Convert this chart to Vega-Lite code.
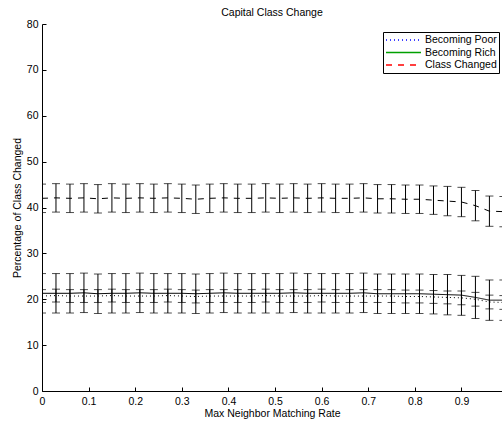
{
  "$schema": "https://vega.github.io/schema/vega-lite/v6.json",
  "width": 460,
  "height": 367,
  "autosize": {"type": "none"},
  "padding": {"left": 42, "top": 24, "right": 0, "bottom": 32},
  "title": {"text": "Capital Class Change", "font": "Liberation Sans", "fontSize": 10.5, "fontWeight": "normal", "color": "#000", "offset": 1},
  "config": {
    "view": {"stroke": null},
    "axis": {
      "grid": false, "domainColor": "#000", "tickColor": "#000", "tickSize": -4,
      "labelFont": "Liberation Sans", "labelFontSize": 10.5, "labelColor": "#000",
      "titleFont": "Liberation Sans", "titleFontSize": 10.5, "titleFontWeight": "normal", "titleColor": "#000",
      "labelFlush": false, "labelOverlap": false
    },
    "legend": {
      "orient": "none", "legendX": 341, "legendY": 8,
      "symbolType": "M-3.5,0H3.5", "symbolSize": 100, "symbolOffset": 12.5, "symbolStrokeWidth": 1.3, "symbolOpacity": 1,
      "fillColor": "#fff", "strokeColor": "#000", "padding": 2, "rowPadding": 0.5, "labelOffset": 15.5,
      "labelFont": "Liberation Sans", "labelFontSize": 10.5, "labelColor": "#000", "labelLimit": 200
    }
  },
  "data": {"values": [
    {"x":0,"s":"Class Changed","m":42.0,"lo":38.9,"hi":45.1},
    {"x":0.03,"s":"Class Changed","m":42.1,"lo":39.0,"hi":45.2},
    {"x":0.06,"s":"Class Changed","m":42.0,"lo":38.9,"hi":45.1},
    {"x":0.09,"s":"Class Changed","m":42.1,"lo":39.0,"hi":45.2},
    {"x":0.12,"s":"Class Changed","m":41.9,"lo":38.8,"hi":45.0},
    {"x":0.15,"s":"Class Changed","m":42.1,"lo":39.0,"hi":45.2},
    {"x":0.18,"s":"Class Changed","m":42.0,"lo":38.9,"hi":45.1},
    {"x":0.21,"s":"Class Changed","m":42.1,"lo":39.0,"hi":45.2},
    {"x":0.24,"s":"Class Changed","m":42.0,"lo":38.9,"hi":45.1},
    {"x":0.27,"s":"Class Changed","m":42.1,"lo":39.0,"hi":45.2},
    {"x":0.30,"s":"Class Changed","m":42.0,"lo":38.9,"hi":45.1},
    {"x":0.33,"s":"Class Changed","m":41.8,"lo":38.7,"hi":44.9},
    {"x":0.36,"s":"Class Changed","m":42.0,"lo":38.9,"hi":45.1},
    {"x":0.39,"s":"Class Changed","m":42.1,"lo":39.0,"hi":45.2},
    {"x":0.42,"s":"Class Changed","m":42.0,"lo":38.9,"hi":45.1},
    {"x":0.45,"s":"Class Changed","m":42.0,"lo":38.9,"hi":45.1},
    {"x":0.48,"s":"Class Changed","m":42.1,"lo":39.0,"hi":45.2},
    {"x":0.51,"s":"Class Changed","m":42.0,"lo":38.9,"hi":45.1},
    {"x":0.54,"s":"Class Changed","m":42.1,"lo":39.0,"hi":45.2},
    {"x":0.57,"s":"Class Changed","m":42.0,"lo":38.9,"hi":45.1},
    {"x":0.60,"s":"Class Changed","m":42.1,"lo":39.0,"hi":45.2},
    {"x":0.63,"s":"Class Changed","m":42.0,"lo":38.9,"hi":45.1},
    {"x":0.66,"s":"Class Changed","m":42.0,"lo":38.9,"hi":45.1},
    {"x":0.69,"s":"Class Changed","m":42.1,"lo":39.0,"hi":45.2},
    {"x":0.72,"s":"Class Changed","m":41.9,"lo":38.8,"hi":45.0},
    {"x":0.75,"s":"Class Changed","m":41.9,"lo":38.8,"hi":45.0},
    {"x":0.78,"s":"Class Changed","m":41.8,"lo":38.7,"hi":44.9},
    {"x":0.81,"s":"Class Changed","m":41.8,"lo":38.7,"hi":44.9},
    {"x":0.84,"s":"Class Changed","m":41.6,"lo":38.5,"hi":44.7},
    {"x":0.87,"s":"Class Changed","m":41.4,"lo":38.2,"hi":44.6},
    {"x":0.90,"s":"Class Changed","m":41.2,"lo":38.0,"hi":44.4},
    {"x":0.93,"s":"Class Changed","m":40.4,"lo":37.1,"hi":43.7},
    {"x":0.96,"s":"Class Changed","m":39.2,"lo":35.9,"hi":42.5},
    {"x":0.99,"s":"Class Changed","m":39.1,"lo":35.8,"hi":42.4},
    {"x":0,"s":"Becoming Rich","m":21.3,"lo":17.0,"hi":25.6},
    {"x":0.03,"s":"Becoming Rich","m":21.3,"lo":17.0,"hi":25.6},
    {"x":0.06,"s":"Becoming Rich","m":21.3,"lo":17.0,"hi":25.6},
    {"x":0.09,"s":"Becoming Rich","m":21.4,"lo":17.1,"hi":25.7},
    {"x":0.12,"s":"Becoming Rich","m":21.2,"lo":16.9,"hi":25.5},
    {"x":0.15,"s":"Becoming Rich","m":21.3,"lo":17.0,"hi":25.6},
    {"x":0.18,"s":"Becoming Rich","m":21.3,"lo":17.0,"hi":25.6},
    {"x":0.21,"s":"Becoming Rich","m":21.4,"lo":17.1,"hi":25.7},
    {"x":0.24,"s":"Becoming Rich","m":21.3,"lo":17.0,"hi":25.6},
    {"x":0.27,"s":"Becoming Rich","m":21.3,"lo":17.0,"hi":25.6},
    {"x":0.30,"s":"Becoming Rich","m":21.3,"lo":17.0,"hi":25.6},
    {"x":0.33,"s":"Becoming Rich","m":21.2,"lo":16.9,"hi":25.5},
    {"x":0.36,"s":"Becoming Rich","m":21.3,"lo":17.0,"hi":25.6},
    {"x":0.39,"s":"Becoming Rich","m":21.4,"lo":17.1,"hi":25.7},
    {"x":0.42,"s":"Becoming Rich","m":21.3,"lo":17.0,"hi":25.6},
    {"x":0.45,"s":"Becoming Rich","m":21.3,"lo":17.0,"hi":25.6},
    {"x":0.48,"s":"Becoming Rich","m":21.3,"lo":17.0,"hi":25.6},
    {"x":0.51,"s":"Becoming Rich","m":21.3,"lo":17.0,"hi":25.6},
    {"x":0.54,"s":"Becoming Rich","m":21.4,"lo":17.1,"hi":25.7},
    {"x":0.57,"s":"Becoming Rich","m":21.3,"lo":17.0,"hi":25.6},
    {"x":0.60,"s":"Becoming Rich","m":21.3,"lo":17.0,"hi":25.6},
    {"x":0.63,"s":"Becoming Rich","m":21.3,"lo":17.0,"hi":25.6},
    {"x":0.66,"s":"Becoming Rich","m":21.3,"lo":17.0,"hi":25.6},
    {"x":0.69,"s":"Becoming Rich","m":21.4,"lo":17.1,"hi":25.7},
    {"x":0.72,"s":"Becoming Rich","m":21.2,"lo":16.9,"hi":25.5},
    {"x":0.75,"s":"Becoming Rich","m":21.2,"lo":16.9,"hi":25.5},
    {"x":0.78,"s":"Becoming Rich","m":21.2,"lo":16.9,"hi":25.5},
    {"x":0.81,"s":"Becoming Rich","m":21.2,"lo":16.9,"hi":25.5},
    {"x":0.84,"s":"Becoming Rich","m":21.1,"lo":16.8,"hi":25.4},
    {"x":0.87,"s":"Becoming Rich","m":21.0,"lo":16.6,"hi":25.4},
    {"x":0.90,"s":"Becoming Rich","m":20.9,"lo":16.5,"hi":25.2},
    {"x":0.93,"s":"Becoming Rich","m":20.4,"lo":15.8,"hi":25.0},
    {"x":0.96,"s":"Becoming Rich","m":19.8,"lo":15.4,"hi":24.2},
    {"x":0.99,"s":"Becoming Rich","m":19.8,"lo":15.4,"hi":24.2},
    {"x":0,"s":"Becoming Poor","m":20.7,"lo":19.3,"hi":22.1},
    {"x":0.03,"s":"Becoming Poor","m":20.8,"lo":19.4,"hi":22.2},
    {"x":0.06,"s":"Becoming Poor","m":20.7,"lo":19.3,"hi":22.1},
    {"x":0.09,"s":"Becoming Poor","m":20.7,"lo":19.3,"hi":22.1},
    {"x":0.12,"s":"Becoming Poor","m":20.7,"lo":19.3,"hi":22.1},
    {"x":0.15,"s":"Becoming Poor","m":20.8,"lo":19.4,"hi":22.2},
    {"x":0.18,"s":"Becoming Poor","m":20.7,"lo":19.3,"hi":22.1},
    {"x":0.21,"s":"Becoming Poor","m":20.7,"lo":19.3,"hi":22.1},
    {"x":0.24,"s":"Becoming Poor","m":20.7,"lo":19.3,"hi":22.1},
    {"x":0.27,"s":"Becoming Poor","m":20.8,"lo":19.4,"hi":22.2},
    {"x":0.30,"s":"Becoming Poor","m":20.7,"lo":19.3,"hi":22.1},
    {"x":0.33,"s":"Becoming Poor","m":20.6,"lo":19.2,"hi":22.0},
    {"x":0.36,"s":"Becoming Poor","m":20.7,"lo":19.3,"hi":22.1},
    {"x":0.39,"s":"Becoming Poor","m":20.7,"lo":19.3,"hi":22.1},
    {"x":0.42,"s":"Becoming Poor","m":20.7,"lo":19.3,"hi":22.1},
    {"x":0.45,"s":"Becoming Poor","m":20.7,"lo":19.3,"hi":22.1},
    {"x":0.48,"s":"Becoming Poor","m":20.8,"lo":19.4,"hi":22.2},
    {"x":0.51,"s":"Becoming Poor","m":20.7,"lo":19.3,"hi":22.1},
    {"x":0.54,"s":"Becoming Poor","m":20.7,"lo":19.3,"hi":22.1},
    {"x":0.57,"s":"Becoming Poor","m":20.7,"lo":19.3,"hi":22.1},
    {"x":0.60,"s":"Becoming Poor","m":20.8,"lo":19.4,"hi":22.2},
    {"x":0.63,"s":"Becoming Poor","m":20.7,"lo":19.3,"hi":22.1},
    {"x":0.66,"s":"Becoming Poor","m":20.7,"lo":19.3,"hi":22.1},
    {"x":0.69,"s":"Becoming Poor","m":20.7,"lo":19.3,"hi":22.1},
    {"x":0.72,"s":"Becoming Poor","m":20.7,"lo":19.3,"hi":22.1},
    {"x":0.75,"s":"Becoming Poor","m":20.7,"lo":19.3,"hi":22.1},
    {"x":0.78,"s":"Becoming Poor","m":20.6,"lo":19.2,"hi":22.0},
    {"x":0.81,"s":"Becoming Poor","m":20.6,"lo":19.2,"hi":22.0},
    {"x":0.84,"s":"Becoming Poor","m":20.5,"lo":19.1,"hi":21.9},
    {"x":0.87,"s":"Becoming Poor","m":20.4,"lo":19.0,"hi":21.8},
    {"x":0.90,"s":"Becoming Poor","m":20.3,"lo":18.8,"hi":21.8},
    {"x":0.93,"s":"Becoming Poor","m":20.0,"lo":18.5,"hi":21.5},
    {"x":0.96,"s":"Becoming Poor","m":19.4,"lo":17.9,"hi":20.9},
    {"x":0.99,"s":"Becoming Poor","m":19.3,"lo":17.8,"hi":20.8}
  ]},
  "encoding": {
    "x": {
      "field": "x", "type": "quantitative",
      "scale": {"domain": [0, 0.987], "nice": false, "zero": false},
      "axis": {"title": "Max Neighbor Matching Rate", "values": [0, 0.1, 0.2, 0.3, 0.4, 0.5, 0.6, 0.7, 0.8, 0.9], "format": "~g", "labelPadding": 9, "titlePadding": 2}
    }
  },
  "layer": [
    {
      "mark": {"type": "line", "opacity": 0, "clip": true},
      "encoding": {
        "y": {"field": "m", "type": "quantitative", "scale": {"domain": [0, 80], "nice": false}, "axis": {"title": "Percentage of Class Changed", "values": [0, 10, 20, 30, 40, 50, 60, 70, 80], "labelPadding": 8, "titlePadding": 4}},
        "color": {"field": "s", "type": "nominal", "scale": {"domain": ["Becoming Poor", "Becoming Rich", "Class Changed"], "range": ["#0000ff", "#00a000", "#ff0000"]}, "legend": {"title": null}},
        "strokeDash": {"field": "s", "type": "nominal", "scale": {"domain": ["Becoming Poor", "Becoming Rich", "Class Changed"], "range": [[1, 3], [1, 0], [6, 6]]}, "legend": {"title": null}}
      }
    },
    {
      "mark": {"type": "line", "color": "#000", "strokeWidth": 1, "clip": true},
      "encoding": {
        "y": {"field": "m", "type": "quantitative"},
        "strokeDash": {"field": "s", "type": "nominal", "legend": {"title": null}},
        "detail": {"field": "s"}
      }
    },
    {
      "mark": {"type": "rule", "color": "#000", "strokeWidth": 1, "clip": true},
      "encoding": {
        "y": {"field": "lo", "type": "quantitative"},
        "y2": {"field": "hi"}
      }
    },
    {
      "mark": {"type": "tick", "orient": "horizontal", "color": "#000", "size": 8, "thickness": 1, "clip": true},
      "encoding": {"y": {"field": "lo", "type": "quantitative"}}
    },
    {
      "mark": {"type": "tick", "orient": "horizontal", "color": "#000", "size": 8, "thickness": 1, "clip": true},
      "encoding": {"y": {"field": "hi", "type": "quantitative"}}
    }
  ]
}
